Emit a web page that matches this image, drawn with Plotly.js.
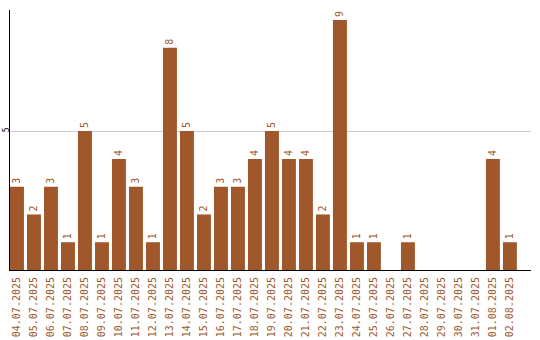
<!DOCTYPE html>
<html><head><meta charset="utf-8">
<script src="https://cdn.plot.ly/plotly-3.0.1.min.js"></script>
<style>html,body{margin:0;padding:0;background:#fff}#c{width:540px;height:340px}</style>
</head><body><div id="c"></div>
<script>
const dates = ["04.07.2025","05.07.2025","06.07.2025","07.07.2025","08.07.2025","09.07.2025","10.07.2025","11.07.2025","12.07.2025","13.07.2025","14.07.2025","15.07.2025","16.07.2025","17.07.2025","18.07.2025","19.07.2025","20.07.2025","21.07.2025","22.07.2025","23.07.2025","24.07.2025","25.07.2025","26.07.2025","27.07.2025","28.07.2025","29.07.2025","30.07.2025","31.07.2025","01.08.2025","02.08.2025"];
const counts = [3,2,3,1,5,1,4,3,1,8,5,2,3,3,4,5,4,4,2,9,1,1,0,1,0,0,0,0,4,1];
const yTicks = [5];

const barColor = '#a0572b';
const fontFam = '"DejaVu Sans Mono", monospace';
const labels = counts.map(v => v ? String(v) : '');

Plotly.newPlot('c', [{
  type: 'bar',
  x: dates,
  y: counts,
  text: labels,
  texttemplate: '%{text}',
  textposition: 'outside',
  textangle: -90,
  cliponaxis: false,
  outsidetextfont: {family: fontFam, size: 10, color: barColor},
  marker: {color: barColor},
  hoverinfo: 'none'
}], {
  width: 540, height: 340,
  margin: {l: 10, r: 9, t: 10, b: 70, pad: 0},
  paper_bgcolor: '#fff', plot_bgcolor: '#fff',
  showlegend: false,
  bargap: 0.18,
  xaxis: {
    type: 'category',
    range: [-0.41, 30.24],
    showline: true, linecolor: '#000', linewidth: 1,
    showgrid: false, zeroline: false,
    ticks: '', tickangle: -90,
    ticklabelstandoff: 2,
    tickfont: {family: fontFam, size: 10, color: barColor},
    automargin: false
  },
  yaxis: {
    range: [0, 9.36],
    tickvals: yTicks,
    ticktext: yTicks.map(String),
    showline: true, linecolor: '#000', linewidth: 1,
    showgrid: true, gridcolor: '#cccccc', gridwidth: 1,
    zeroline: false,
    ticks: '', tickangle: -90,
    ticklabelstandoff: -3,
    tickfont: {family: fontFam, size: 8, color: '#000'},
    automargin: false
  }
}, {staticPlot: true, displayModeBar: false});
</script>
</body></html>
